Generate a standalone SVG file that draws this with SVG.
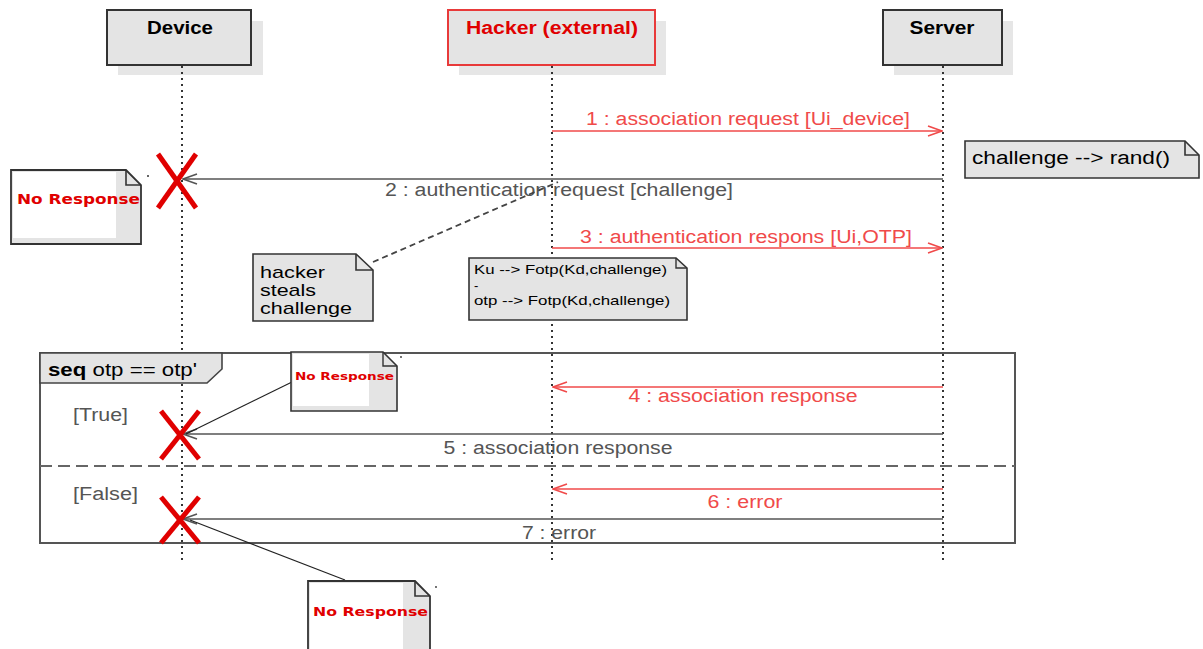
<svg xmlns="http://www.w3.org/2000/svg" width="1203" height="649" viewBox="0 0 1203 649">
<style>
text{font-family:"Liberation Sans",Arial,sans-serif}
.shadow{fill:#e6e6e6}
.head{fill:#e4e4e4;stroke:#333;stroke-width:2}
.headr{fill:#e4e4e4;stroke:#e83a3a;stroke-width:2}
.life{stroke:#333;stroke-width:2;stroke-dasharray:2,4;fill:none}
.msgr{stroke:#f04a4a;stroke-width:1.6;fill:none}
.msgg{stroke:#555;stroke-width:1.6;fill:none}
.lblr{fill:#f04a4a;font-size:18px}
.lblg{fill:#555;font-size:18px}
.note{fill:#e4e4e4;stroke:#333;stroke-width:1.6}
.nr{fill:#e00000;font-family:"DejaVu Sans",sans-serif;font-weight:bold}
.x{stroke:#e00000;stroke-width:5;stroke-linecap:butt}
</style>
<defs>
<marker id="ar" markerWidth="16" markerHeight="12" refX="15" refY="6" orient="auto" markerUnits="userSpaceOnUse"><path d="M1,1 L15,6 L1,11" fill="none" stroke="#f04a4a" stroke-width="1.6"/></marker>
<marker id="ag" markerWidth="16" markerHeight="12" refX="15" refY="6" orient="auto" markerUnits="userSpaceOnUse"><path d="M1,1 L15,6 L1,11" fill="none" stroke="#555" stroke-width="1.6"/></marker>
</defs>
<rect width="1203" height="649" fill="#fff"/>

<g id="device">
<rect class="shadow" x="118" y="21" width="145" height="54"/>
<rect class="head" x="107" y="10" width="144" height="55"/>
<text x="180" y="34" text-anchor="middle" font-weight="bold" font-size="18" textLength="66" lengthAdjust="spacingAndGlyphs">Device</text>
<line class="life" x1="182" y1="66" x2="182" y2="562"/>
</g>
<g id="hacker">
<rect class="shadow" x="459" y="21" width="207" height="54"/>
<rect class="headr" x="448" y="10" width="207" height="55"/>
<text x="552" y="34" text-anchor="middle" font-weight="bold" font-size="18" fill="#e00000" textLength="172" lengthAdjust="spacingAndGlyphs">Hacker (external)</text>
<line class="life" x1="552" y1="66" x2="552" y2="562"/>
</g>
<g id="server">
<rect class="shadow" x="894" y="21" width="119" height="54"/>
<rect class="head" x="883" y="10" width="119" height="55"/>
<text x="942" y="34" text-anchor="middle" font-weight="bold" font-size="18" textLength="65" lengthAdjust="spacingAndGlyphs">Server</text>
<line class="life" x1="943" y1="66" x2="943" y2="562"/>
</g>

<g id="frame">
<rect x="40" y="353" width="975" height="190" fill="none" stroke="#555" stroke-width="2"/>
<path d="M40,353 H222 V369 L207,383 H40 Z" fill="#e4e4e4" stroke="#444" stroke-width="1.6"/>
<text x="48" y="376" font-size="18" textLength="149" lengthAdjust="spacingAndGlyphs"><tspan font-weight="bold">seq</tspan>  otp == otp'</text>
<line x1="40" y1="466" x2="1015" y2="466" stroke="#666" stroke-width="2" stroke-dasharray="12,6"/>
<text x="73" y="421" class="lblg" textLength="55" lengthAdjust="spacingAndGlyphs">[True]</text>
<text x="73" y="500" class="lblg" textLength="65" lengthAdjust="spacingAndGlyphs">[False]</text>
</g>

<g id="connectors">
<line class="msgr" x1="552" y1="131" x2="942" y2="131" marker-end="url(#ar)"/>
<text class="lblr" x="748" y="125" text-anchor="middle" textLength="324" lengthAdjust="spacingAndGlyphs">1 : association request [Ui_device]</text>
<line class="msgg" x1="943" y1="179" x2="183" y2="179" marker-end="url(#ag)"/>
<text class="lblg" x="559" y="196" text-anchor="middle" textLength="348" lengthAdjust="spacingAndGlyphs">2 : authentication request [challenge]</text>
<line class="msgr" x1="552" y1="248" x2="942" y2="248" marker-end="url(#ar)"/>
<text class="lblr" x="746" y="243" text-anchor="middle" textLength="332" lengthAdjust="spacingAndGlyphs">3 : authentication respons [Ui,OTP]</text>
<line class="msgr" x1="943" y1="387" x2="553" y2="387" marker-end="url(#ar)"/>
<text class="lblr" x="743" y="402" text-anchor="middle" textLength="229" lengthAdjust="spacingAndGlyphs">4 : association response</text>
<line class="msgg" x1="943" y1="434" x2="183" y2="434" marker-end="url(#ag)"/>
<text class="lblg" x="558" y="454" text-anchor="middle" textLength="229" lengthAdjust="spacingAndGlyphs">5 : association response</text>
<line class="msgr" x1="943" y1="489" x2="553" y2="489" marker-end="url(#ar)"/>
<text class="lblr" x="745" y="508" text-anchor="middle" textLength="75" lengthAdjust="spacingAndGlyphs">6 : error</text>
<line class="msgg" x1="943" y1="519" x2="183" y2="519" marker-end="url(#ag)"/>
<text class="lblg" x="559" y="539" text-anchor="middle" textLength="74" lengthAdjust="spacingAndGlyphs">7 : error</text>
<line x1="373" y1="262" x2="558" y2="182" stroke="#444" stroke-width="1.8" stroke-dasharray="6,4"/>
<line x1="292" y1="382" x2="186" y2="434" stroke="#222" stroke-width="1.2"/>
<line x1="345" y1="580" x2="190" y2="520" stroke="#222" stroke-width="1.2"/>
</g>

<g id="x1"><line class="x" x1="158" y1="154" x2="196" y2="208"/><line class="x" x1="196" y1="154" x2="158" y2="208"/></g>
<g id="x2"><line class="x" x1="161" y1="411" x2="199" y2="459"/><line class="x" x1="199" y1="411" x2="161" y2="459"/></g>
<g id="x3"><line class="x" x1="161" y1="497" x2="199" y2="543"/><line class="x" x1="199" y1="497" x2="161" y2="543"/></g>

<g id="note-rand">
<path class="note" d="M965,141 H1185 L1199,155 V178 H965 Z"/>
<path d="M1185,141 V155 H1199" fill="none" stroke="#333" stroke-width="1.6"/>
<text x="972" y="164" font-size="18" textLength="198" lengthAdjust="spacingAndGlyphs">challenge --&gt; rand()</text>
</g>

<g id="note-nr1">
<path d="M11,170 H126 L141,185 V244 H11 Z" fill="#e4e4e4"/>
<rect x="13" y="172" width="103" height="66" fill="#fff"/>
<path d="M11,170 H126 L141,185 V244 H11 Z" fill="none" stroke="#333" stroke-width="1.8"/>
<path d="M126,170 V185 H141" fill="none" stroke="#333" stroke-width="1.6"/>
<text class="nr" x="17" y="204" font-size="14" textLength="123" lengthAdjust="spacingAndGlyphs">No Response</text>
<circle cx="148" cy="176" r="1" fill="#333"/>
</g>

<g id="note-hacker">
<path class="note" d="M253,254 H356 L373,270 V321 H253 Z"/>
<path d="M356,254 V270 H373" fill="none" stroke="#333" stroke-width="1.6"/>
<text x="260" y="278" font-size="17" textLength="65" lengthAdjust="spacingAndGlyphs">hacker</text>
<text x="260" y="296" font-size="17" textLength="56" lengthAdjust="spacingAndGlyphs">steals</text>
<text x="260" y="314" font-size="17" textLength="92" lengthAdjust="spacingAndGlyphs">challenge</text>
</g>

<g id="note-otp">
<path class="note" d="M469,258 H676 L687,268 V320 H469 Z"/>
<path d="M676,258 V268 H687" fill="none" stroke="#333" stroke-width="1.4"/>
<text x="474" y="274" font-size="13" textLength="193" lengthAdjust="spacingAndGlyphs">Ku --&gt; Fotp(Kd,challenge)</text>
<text x="474" y="290" font-size="13">-</text>
<text x="474" y="305" font-size="13" textLength="196" lengthAdjust="spacingAndGlyphs">otp --&gt; Fotp(Kd,challenge)</text>
</g>

<g id="note-nr2">
<path d="M291,352 H383 L397,366 V411 H291 Z" fill="#e4e4e4"/>
<rect x="293" y="354" width="76" height="52" fill="#fff"/>
<path d="M291,352 H383 L397,366 V411 H291 Z" fill="none" stroke="#333" stroke-width="1.6"/>
<path d="M383,352 V366 H397" fill="none" stroke="#333" stroke-width="1.4"/>
<text class="nr" x="295" y="380" font-size="11" textLength="99" lengthAdjust="spacingAndGlyphs">No Response</text>
<circle cx="401" cy="357" r="0.9" fill="#333"/>
</g>

<g id="note-nr3">
<path d="M308,581 H415 L430,596 V652 H308 Z" fill="#e4e4e4"/>
<rect x="310" y="583" width="93" height="66" fill="#fff"/>
<path d="M308,581 H415 L430,596 V652 H308 Z" fill="none" stroke="#333" stroke-width="1.8"/>
<path d="M415,581 V596 H430" fill="none" stroke="#333" stroke-width="1.6"/>
<text class="nr" x="313" y="616" font-size="13" textLength="115" lengthAdjust="spacingAndGlyphs">No Response</text>
<circle cx="436" cy="587" r="0.9" fill="#333"/>
</g>
</svg>
